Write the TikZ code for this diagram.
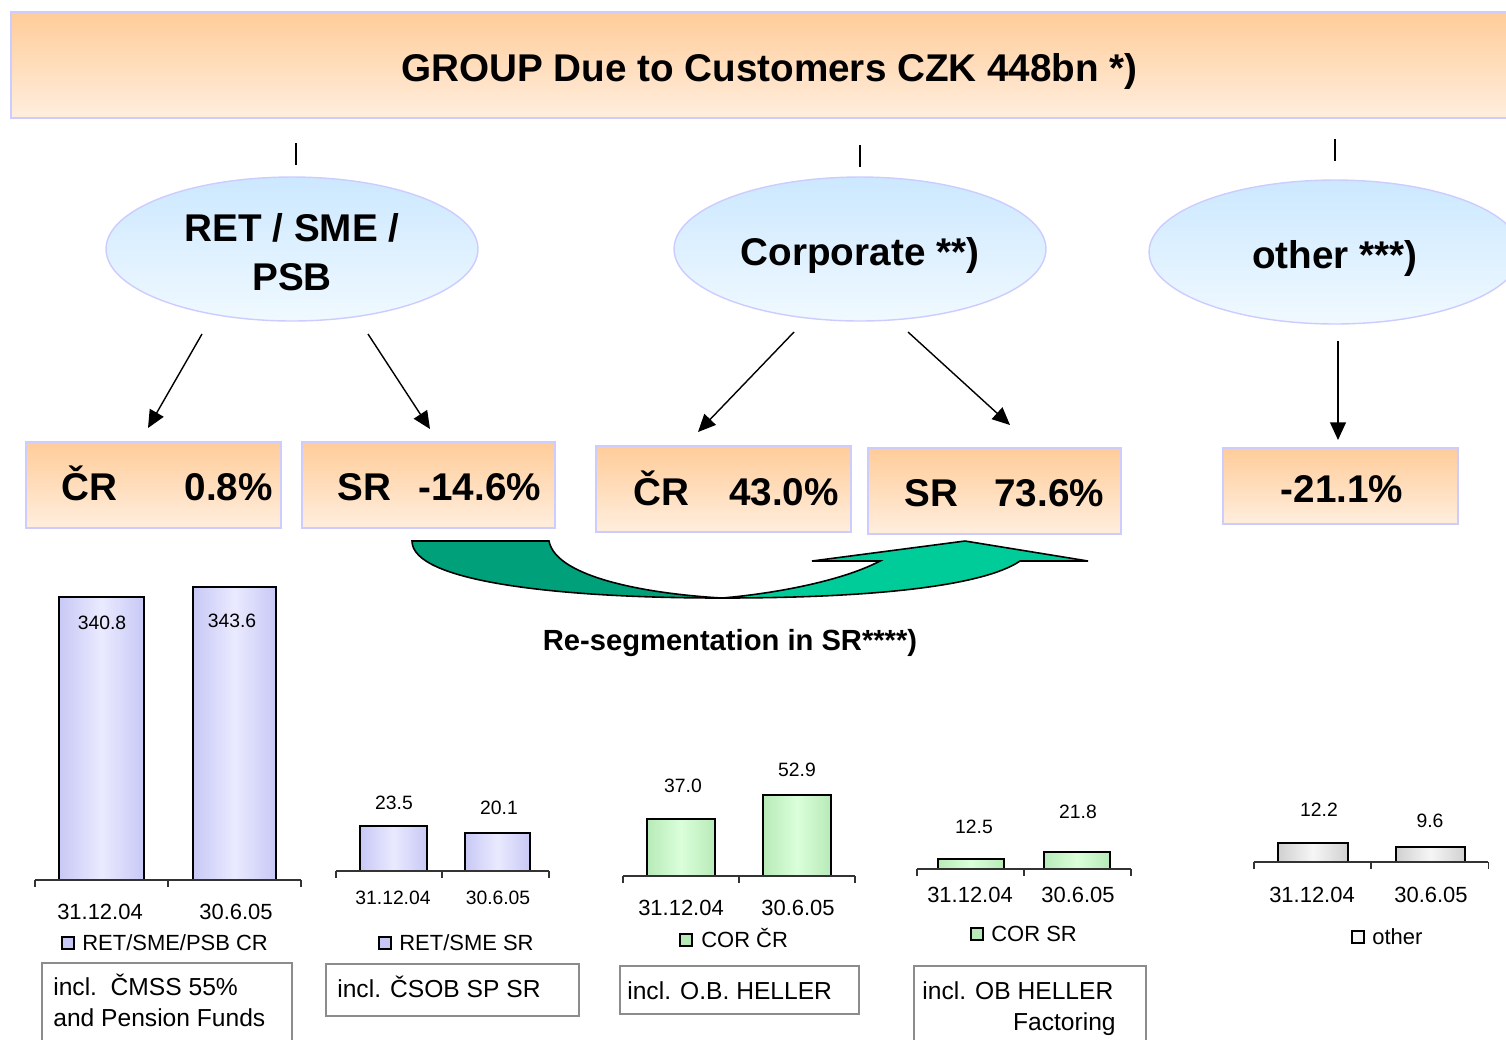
\documentclass[tikz,border=0pt]{standalone}
\usepackage{fontspec}
\setmainfont{Liberation Sans}
\usetikzlibrary{shapes.geometric,arrows.meta}

\definecolor{peachTop}{RGB}{255,204,153}
\definecolor{peachBot}{RGB}{255,238,222}
\definecolor{lav}{RGB}{204,204,255}
\definecolor{skyTop}{RGB}{204,232,255}
\definecolor{skyBot}{RGB}{240,249,255}
\definecolor{segDark}{RGB}{0,160,122}
\definecolor{segLight}{RGB}{0,204,153}
\definecolor{retEdge}{RGB}{200,200,246}
\definecolor{retMid}{RGB}{234,234,255}
\definecolor{corEdge}{RGB}{184,234,184}
\definecolor{corMid}{RGB}{218,255,218}
\definecolor{othEdge}{RGB}{208,208,208}
\definecolor{othMid}{RGB}{246,246,246}

\begin{document}
\begin{tikzpicture}[x=0.02cm, y=-0.02cm,
    head/.style={font=\fontsize{22}{28}\selectfont\bfseries},
    segment/.style={ellipse, draw=lav, line width=0.8pt, top color=skyTop, bottom color=skyBot,
      minimum width=7.44cm, minimum height=2.88cm, inner sep=0pt, align=center, head},
    oneline/.style={text height=19.2pt, text depth=0pt},
    pbox/.style={draw=lav, line width=0.8pt, top color=peachTop, bottom color=peachBot,
      minimum height=1.72cm, inner sep=0pt},
    ptext/.style={head, inner sep=0pt, text height=15.8pt, text depth=0pt},
    arr/.style={-{Triangle[length=10pt,width=9pt]}, line width=0.8pt},
    bar/.style={draw=black, line width=0.9pt},
    retbar/.style={bar, left color=retEdge, right color=retEdge, middle color=retMid},
    corbar/.style={bar, left color=corEdge, right color=corEdge, middle color=corMid},
    othbar/.style={bar, left color=othEdge, right color=othEdge, middle color=othMid},
    axisline/.style={draw=black!80, line width=0.6pt},
    val/.style={font=\fontsize{11}{13}\selectfont, inner sep=0pt, text height=7.9pt, text depth=0pt},
    cat/.style={font=\fontsize{12.5}{15}\selectfont, inner sep=0pt, text height=9pt, text depth=0pt},
    leg/.style={cat, anchor=west},
    note/.style={font=\fontsize{14}{17}\selectfont, inner sep=0pt, text height=10pt, text depth=0pt, anchor=west},
    notebox/.style={draw=black!45, line width=0.8pt}
  ]
  \useasboundingbox (0,0) rectangle (1506,1039);
  \clip (0,0) rectangle (1506,1039);

  % header
  \node[draw=lav, line width=0.8pt, top color=peachTop, bottom color=peachBot,
    minimum width=30.34cm, minimum height=2.12cm, inner sep=0pt,
    head, text height=19.2pt, text depth=0pt] (group) at (769.5,65) {GROUP Due to Customers CZK 448bn *)};
  \foreach \x/\y in {296/143, 860/145, 1335/139} {
    \draw[line width=0.6pt] (\x,\y) -- ++(0,22);
  }

  % segments
  \node[segment] (ret) at (292,249) {\rule{0pt}{20pt}RET / SME /\\PSB};
  \node[segment, oneline] (cor) at (860,249) {Corporate **)};
  \node[segment, oneline] (oth) at (1335,252) {other ***)};

  % growth boxes
  \node[pbox, minimum width=5.1cm]  (crR) at (153.5,485) {};
  \node[pbox, minimum width=5.06cm] (srR) at (428.5,485) {};
  \node[pbox, minimum width=5.1cm]  (crC) at (723.5,489) {};
  \node[pbox, minimum width=5.06cm] (srC) at (994.5,491) {};
  \node[pbox, minimum width=4.7cm, minimum height=1.52cm] (otB) at (1340.5,486) {};
  \node[ptext] (crRt) at (167,487)    {ČR\hspace{38.6pt}0.8\%};
  \node[ptext] (srRt) at (439.5,487)  {SR\hspace{15.3pt}-14.6\%};
  \node[ptext] (crCt) at (736,492)    {ČR\hspace{22.7pt}43.0\%};
  \node[ptext] (srCt) at (1004.5,493) {SR\hspace{20.4pt}73.6\%};
  \node[ptext] (otBt) at (1342,489)   {-21.1\%};

  % arrows
  \coordinate (retL) at (202,334);  \coordinate (crRin) at (148,428);
  \coordinate (retR) at (368,334);  \coordinate (srRin) at (430,429);
  \coordinate (corL) at (794,332);  \coordinate (crCin) at (698,432);
  \coordinate (corR) at (908,332);  \coordinate (srCin) at (1010,425);
  \coordinate (othD) at (1338,341); \coordinate (otBin) at (1338,440);
  \draw[arr] (retL) -- (crRin);
  \draw[arr] (retR) -- (srRin);
  \draw[arr] (corL) -- (crCin);
  \draw[arr] (corR) -- (srCin);
  \draw[arr] (othD) -- (otBin);

  % re-segmentation arrow
  \draw[line width=0.9pt, fill=segLight] (722,598) .. controls (880,598) and (985,585) .. (1020,561)
    -- (1088,561) -- (965,541) -- (812,561) -- (880,561)
    .. controls (840,582) and (770,594) .. (722,598) -- cycle;
  \draw[line width=0.9pt, fill=segDark] (412,541) -- (549,541)
    .. controls (556,578) and (650,594) .. (722,598)
    .. controls (560,598) and (412,582) .. (412,541) -- cycle;
  \node[font=\fontsize{16.6}{20}\selectfont\bfseries, inner sep=0pt,
    text height=11.9pt, text depth=0pt] (reseg) at (730,640) {Re-segmentation in SR****)};

  % chart RET/SME/PSB CR
  \draw[retbar] (59,597) rectangle (144,880);
  \draw[retbar] (193,587) rectangle (276,880);
  \draw[axisline] (35,880) -- (301,880);
  \foreach \t in {35,168,301} \draw[axisline] (\t,880) -- ++(0,7);
  \node[val] (v11) at (102,623) {340.8};
  \node[val] (v12) at (232,621) {343.6};
  \node[cat] (c11) at (100,912) {31.12.04};
  \node[cat] (c12) at (236,912) {30.6.05};
  \draw[fill=retEdge, line width=0.6pt] (62,937) rectangle (74,949);
  \node[leg] (l1) at (82,943) {RET/SME/PSB CR};
  \draw[notebox] (42,963) rectangle (292,1050);
  \node[note] (n1a) at (53,987)  {incl.\ \ ČMSS 55\%};
  \node[note] (n1b) at (53,1018) {and Pension Funds};

  % chart RET/SME SR
  \draw[retbar] (360,826) rectangle (427,871);
  \draw[retbar] (465,833) rectangle (530,871);
  \draw[axisline] (336,871) -- (549,871);
  \foreach \t in {336,442,549} \draw[axisline] (\t,871) -- ++(0,7);
  \node[val] (v21) at (394,803) {23.5};
  \node[val] (v22) at (499,808) {20.1};
  \node[val] (c21) at (393,898) {31.12.04};
  \node[val] (c22) at (498,898) {30.6.05};
  \draw[fill=retEdge, line width=0.6pt] (379,937) rectangle (391,949);
  \node[leg] (l2) at (399,943) {RET/SME SR};
  \draw[notebox] (326,964) rectangle (579,1016);
  \node[note] (n2) at (337,989) {incl. ČSOB SP SR};

  % chart COR CR
  \draw[corbar] (647,819) rectangle (715,876);
  \draw[corbar] (763,795) rectangle (831,876);
  \draw[axisline] (623,876) -- (855,876);
  \foreach \t in {623,739,855} \draw[axisline] (\t,876) -- ++(0,7);
  \node[val] (v31) at (683,786) {37.0};
  \node[val] (v32) at (797,770) {52.9};
  \node[cat] (c31) at (681,908) {31.12.04};
  \node[cat] (c32) at (798,908) {30.6.05};
  \draw[fill=corEdge, line width=0.6pt] (680,934) rectangle (692,946);
  \node[leg] (l3) at (701,940) {COR ČR};
  \draw[notebox] (620,966) rectangle (859,1014);
  \node[note] (n3) at (627,991) {incl. O.B. HELLER};

  % chart COR SR
  \draw[corbar] (938,859) rectangle (1004,869);
  \draw[corbar] (1044,852) rectangle (1110,869);
  \draw[axisline] (917,869) -- (1131,869);
  \foreach \t in {917,1024,1131} \draw[axisline] (\t,869) -- ++(0,7);
  \node[val] (v41) at (974,827) {12.5};
  \node[val] (v42) at (1078,812) {21.8};
  \node[cat] (c41) at (970,895) {31.12.04};
  \node[cat] (c42) at (1078,895) {30.6.05};
  \draw[fill=corEdge, line width=0.6pt] (971,928) rectangle (983,940);
  \node[leg] (l4) at (991,934) {COR SR};
  \draw[notebox] (914,966) rectangle (1146,1050);
  \node[note] (n4a) at (922,991) {incl. OB HELLER};
  \node[note, anchor=east] (n4b) at (1116,1022) {Factoring};

  % chart other
  \draw[othbar] (1278,843) rectangle (1348,862);
  \draw[othbar] (1396,847) rectangle (1465,862);
  \draw[axisline] (1254,862) -- (1488,862);
  \foreach \t in {1254,1371,1488} \draw[axisline] (\t,862) -- ++(0,7);
  \node[val] (v51) at (1319,810) {12.2};
  \node[val] (v52) at (1430,821) {9.6};
  \node[cat] (c51) at (1312,895) {31.12.04};
  \node[cat] (c52) at (1431,895) {30.6.05};
  \draw[fill=othMid, line width=0.6pt] (1352,931) rectangle (1364,943);
  \node[leg] (l5) at (1372,937) {other};
\end{tikzpicture}
\end{document}
